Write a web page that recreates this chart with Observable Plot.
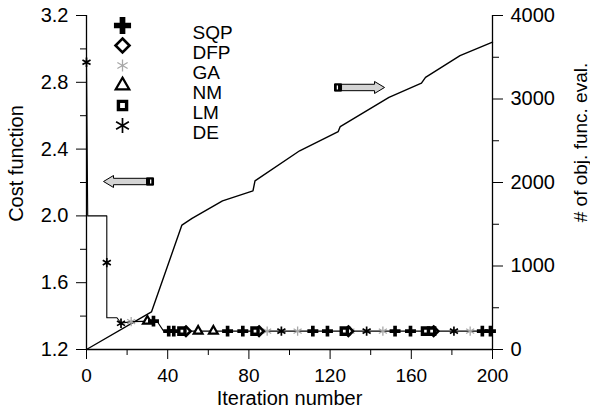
<!DOCTYPE html>
<html><head><meta charset="utf-8">
<script src="https://cdn.jsdelivr.net/npm/d3@7"></script>
<script src="https://cdn.jsdelivr.net/npm/@observablehq/plot@0.6"></script>
<style>
body{margin:0;background:#fff;}
#chart{width:590px;height:411px;}
</style></head><body><div id="chart"></div>
<script>
// ---- data ----
const costIter = [0, 0.6, 10, 10, 15, 17, 22, 33, 35, 38, 200];
const costVal  = [2.92, 2.0, 2.0, 1.39, 1.39, 1.357, 1.367, 1.37, 1.365, 1.31, 1.31];

const evalIter = [0, 32, 47, 52, 67, 82, 83, 105, 124, 125, 149, 165, 167, 184, 200];
const evalVal  = [0, 450, 1490, 1570, 1780, 1900, 2020, 2380, 2610, 2670, 3020, 3190, 3260, 3520, 3680];

const sqpIter = [33, 40.5, 43, 69.5, 77, 111.5, 118.7, 152, 159.6, 195, 199];
const sqpVal  = [1.37, 1.31, 1.31, 1.31, 1.31, 1.31, 1.31, 1.31, 1.31, 1.31, 1.31];
const dfpIter = [49, 85, 129, 171];
const dfpVal  = [1.31, 1.31, 1.31, 1.31];
const gaIter  = [22, 89, 104, 130, 146, 189];
const gaVal   = [1.367, 1.31, 1.31, 1.31, 1.31, 1.31];
const nmIter  = [30, 55, 62.5];
const nmVal   = [1.37, 1.31, 1.31];
const lmIter  = [47, 83, 127, 167, 170];
const lmVal   = [1.31, 1.31, 1.31, 1.31, 1.31];
const deIter  = [0, 10, 17, 96, 138, 181];
const deVal   = [2.92, 1.72, 1.357, 1.31, 1.31, 1.31];

const legendNames = ["SQP", "DFP", "GA", "NM", "LM", "DE"];

const costTicks = [1.2, 1.6, 2.0, 2.4, 2.8, 3.2];
const costMinor = [1.4, 1.8, 2.2, 2.6, 3.0];
const evalTicks = [0, 1000, 2000, 3000, 4000];
const evalMinor = [500, 1500, 2500, 3500];
const iterTicks = [0, 40, 80, 120, 160, 200];
const iterMinor = [20, 60, 100, 140, 180];

// annotation arrows (data coordinates)
const arrowLeftAt  = {iter: 20.7, cost: 2.206};
const arrowRightAt = {iter: 134.5, cost: 2.769};

// ---- helpers ----
const toCost = v => 1.2 + v * 2 / 4000;
const zip = (xs, ys) => xs.map((x, i) => ({x, y: ys[i]}));

const costData = zip(costIter, costVal);
const evalData = zip(evalIter, evalVal.map(toCost));

const styles = {
  SQP: {symbol: "cross", fill: "black", stroke: "none", strokeWidth: 0},
  DFP: {symbol: "diamond2", fill: "white", stroke: "black", strokeWidth: 2.6},
  GA:  {symbol: "asterisk", fill: "none", stroke: "#a8a8a8", strokeWidth: 1.3},
  NM:  {symbol: "triangle2", fill: "white", stroke: "black", strokeWidth: 2.2},
  LM:  {symbol: "square2", fill: "white", stroke: "black", strokeWidth: 3.4},
  DE:  {symbol: "asterisk", fill: "none", stroke: "black", strokeWidth: 1.7}
};
const series = {
  SQP: zip(sqpIter, sqpVal), DFP: zip(dfpIter, dfpVal), GA: zip(gaIter, gaVal),
  NM: zip(nmIter, nmVal), LM: zip(lmIter, lmVal), DE: zip(deIter, deVal)
};
const lineR = {SQP: 4.6, DFP: 4.2, GA: 4.4, NM: 4.2, LM: 3.9, DE: 4.4};
const legR  = {SQP: 7.2, DFP: 6.3, GA: 5.6, NM: 6.5, LM: 5.2, DE: 7.0};

// custom block-arrow symbols
const arrowBody = dir => ({draw(ctx) {
  const s = dir;
  ctx.moveTo(-25 * s, 0); ctx.lineTo(-15 * s, -6); ctx.lineTo(-15 * s, -3.2);
  ctx.lineTo(25 * s, -3.2); ctx.lineTo(25 * s, 3.2); ctx.lineTo(-15 * s, 3.2);
  ctx.lineTo(-15 * s, 6); ctx.closePath();
}});
const arrowTail = dir => ({draw(ctx) {
  const s = dir, a = 18 * s, b = 25 * s;
  ctx.moveTo(a, -3.6); ctx.lineTo(b, -3.6); ctx.lineTo(b, 3.6); ctx.lineTo(a, 3.6); ctx.closePath();
}});
const arrowMark = dir => ({draw(ctx) {
  const s = dir, a = 21.5 * s, b = 22.8 * s;
  ctx.moveTo(a, -2); ctx.lineTo(b, -2); ctx.lineTo(b, 2); ctx.lineTo(a, 2); ctx.closePath();
}});

const marks = [];
// frame lines
marks.push(Plot.ruleX([0, 200], {stroke: "black", strokeWidth: 1.3}));
marks.push(Plot.ruleY([1.2], {stroke: "black", strokeWidth: 1.3}));
// axes
marks.push(Plot.axisX({ticks: iterTicks, tickSize: 10, tickPadding: 9, label: null, fontSize: 19}));
marks.push(Plot.axisX({ticks: iterMinor, tickSize: 6, tickFormat: () => "", label: null}));
marks.push(Plot.axisY({anchor: "left", ticks: costTicks, tickFormat: d3.format(".1f"), tickSize: 10, tickPadding: 8, label: null, fontSize: 20}));
marks.push(Plot.axisY({anchor: "left", ticks: costMinor, tickSize: 6, tickFormat: () => "", label: null}));
marks.push(Plot.axisY({anchor: "right", ticks: evalTicks.map(toCost), tickFormat: t => String(Math.round((t - 1.2) * 2000)), tickSize: 10, tickPadding: 8, label: null, fontSize: 20}));
marks.push(Plot.axisY({anchor: "right", ticks: evalMinor.map(toCost), tickSize: 6, tickFormat: () => "", label: null}));
// titles
marks.push(Plot.text(["Iteration number"], {frameAnchor: "bottom", dy: 55, textAnchor: "middle", fontSize: 20}));
marks.push(Plot.text(["Cost function"], {frameAnchor: "left", dx: -70, dy: -19, textAnchor: "middle", rotate: -90, fontSize: 20}));
marks.push(Plot.text(["# of obj. func. eval."], {frameAnchor: "right", dx: 88, dy: -40, textAnchor: "middle", rotate: -90, fontSize: 19}));
// curves
marks.push(Plot.line(evalData, {x: "x", y: "y", stroke: "black", strokeWidth: 1.4}));
marks.push(Plot.line(costData, {x: "x", y: "y", stroke: "black", strokeWidth: 1.1}));
// markers on curve
for (const name of ["GA", "DE", "NM", "DFP", "LM", "SQP"]) {
  marks.push(Plot.dot(series[name], {x: "x", y: "y", r: lineR[name], ...styles[name]}));
}
// legend
legendNames.forEach((name, i) => {
  marks.push(Plot.dot([name], {frameAnchor: "top-left", dx: 36, dy: 10 + 20 * i, r: legR[name], ...styles[name]}));
  marks.push(Plot.text([name], {frameAnchor: "top-left", dx: 106, dy: 10 + 20 * i, text: d => d, textAnchor: "start", fontSize: 19}));
});
// arrows
for (const [at, dir] of [[arrowLeftAt, 1], [arrowRightAt, -1]]) {
  marks.push(Plot.dot([at], {x: "iter", y: "cost", symbol: arrowBody(dir), fill: "#d4d4d4", stroke: "black", strokeWidth: 1}));
  marks.push(Plot.dot([at], {x: "iter", y: "cost", symbol: arrowTail(dir), fill: "black", stroke: "black", strokeWidth: 1}));
  marks.push(Plot.dot([at], {x: "iter", y: "cost", symbol: arrowMark(dir), fill: "white", stroke: "none"}));
}

const chart = Plot.plot({
  width: 590, height: 411,
  marginTop: 15, marginBottom: 62, marginLeft: 86, marginRight: 98,
  x: {domain: [0, 200], axis: null},
  y: {domain: [1.2, 3.2], axis: null},
  style: {fontFamily: "'Liberation Sans', Arial, sans-serif", fontSize: "19px", background: "white", color: "black"},
  marks
});
document.getElementById("chart").appendChild(chart);
</script>
</body></html>
